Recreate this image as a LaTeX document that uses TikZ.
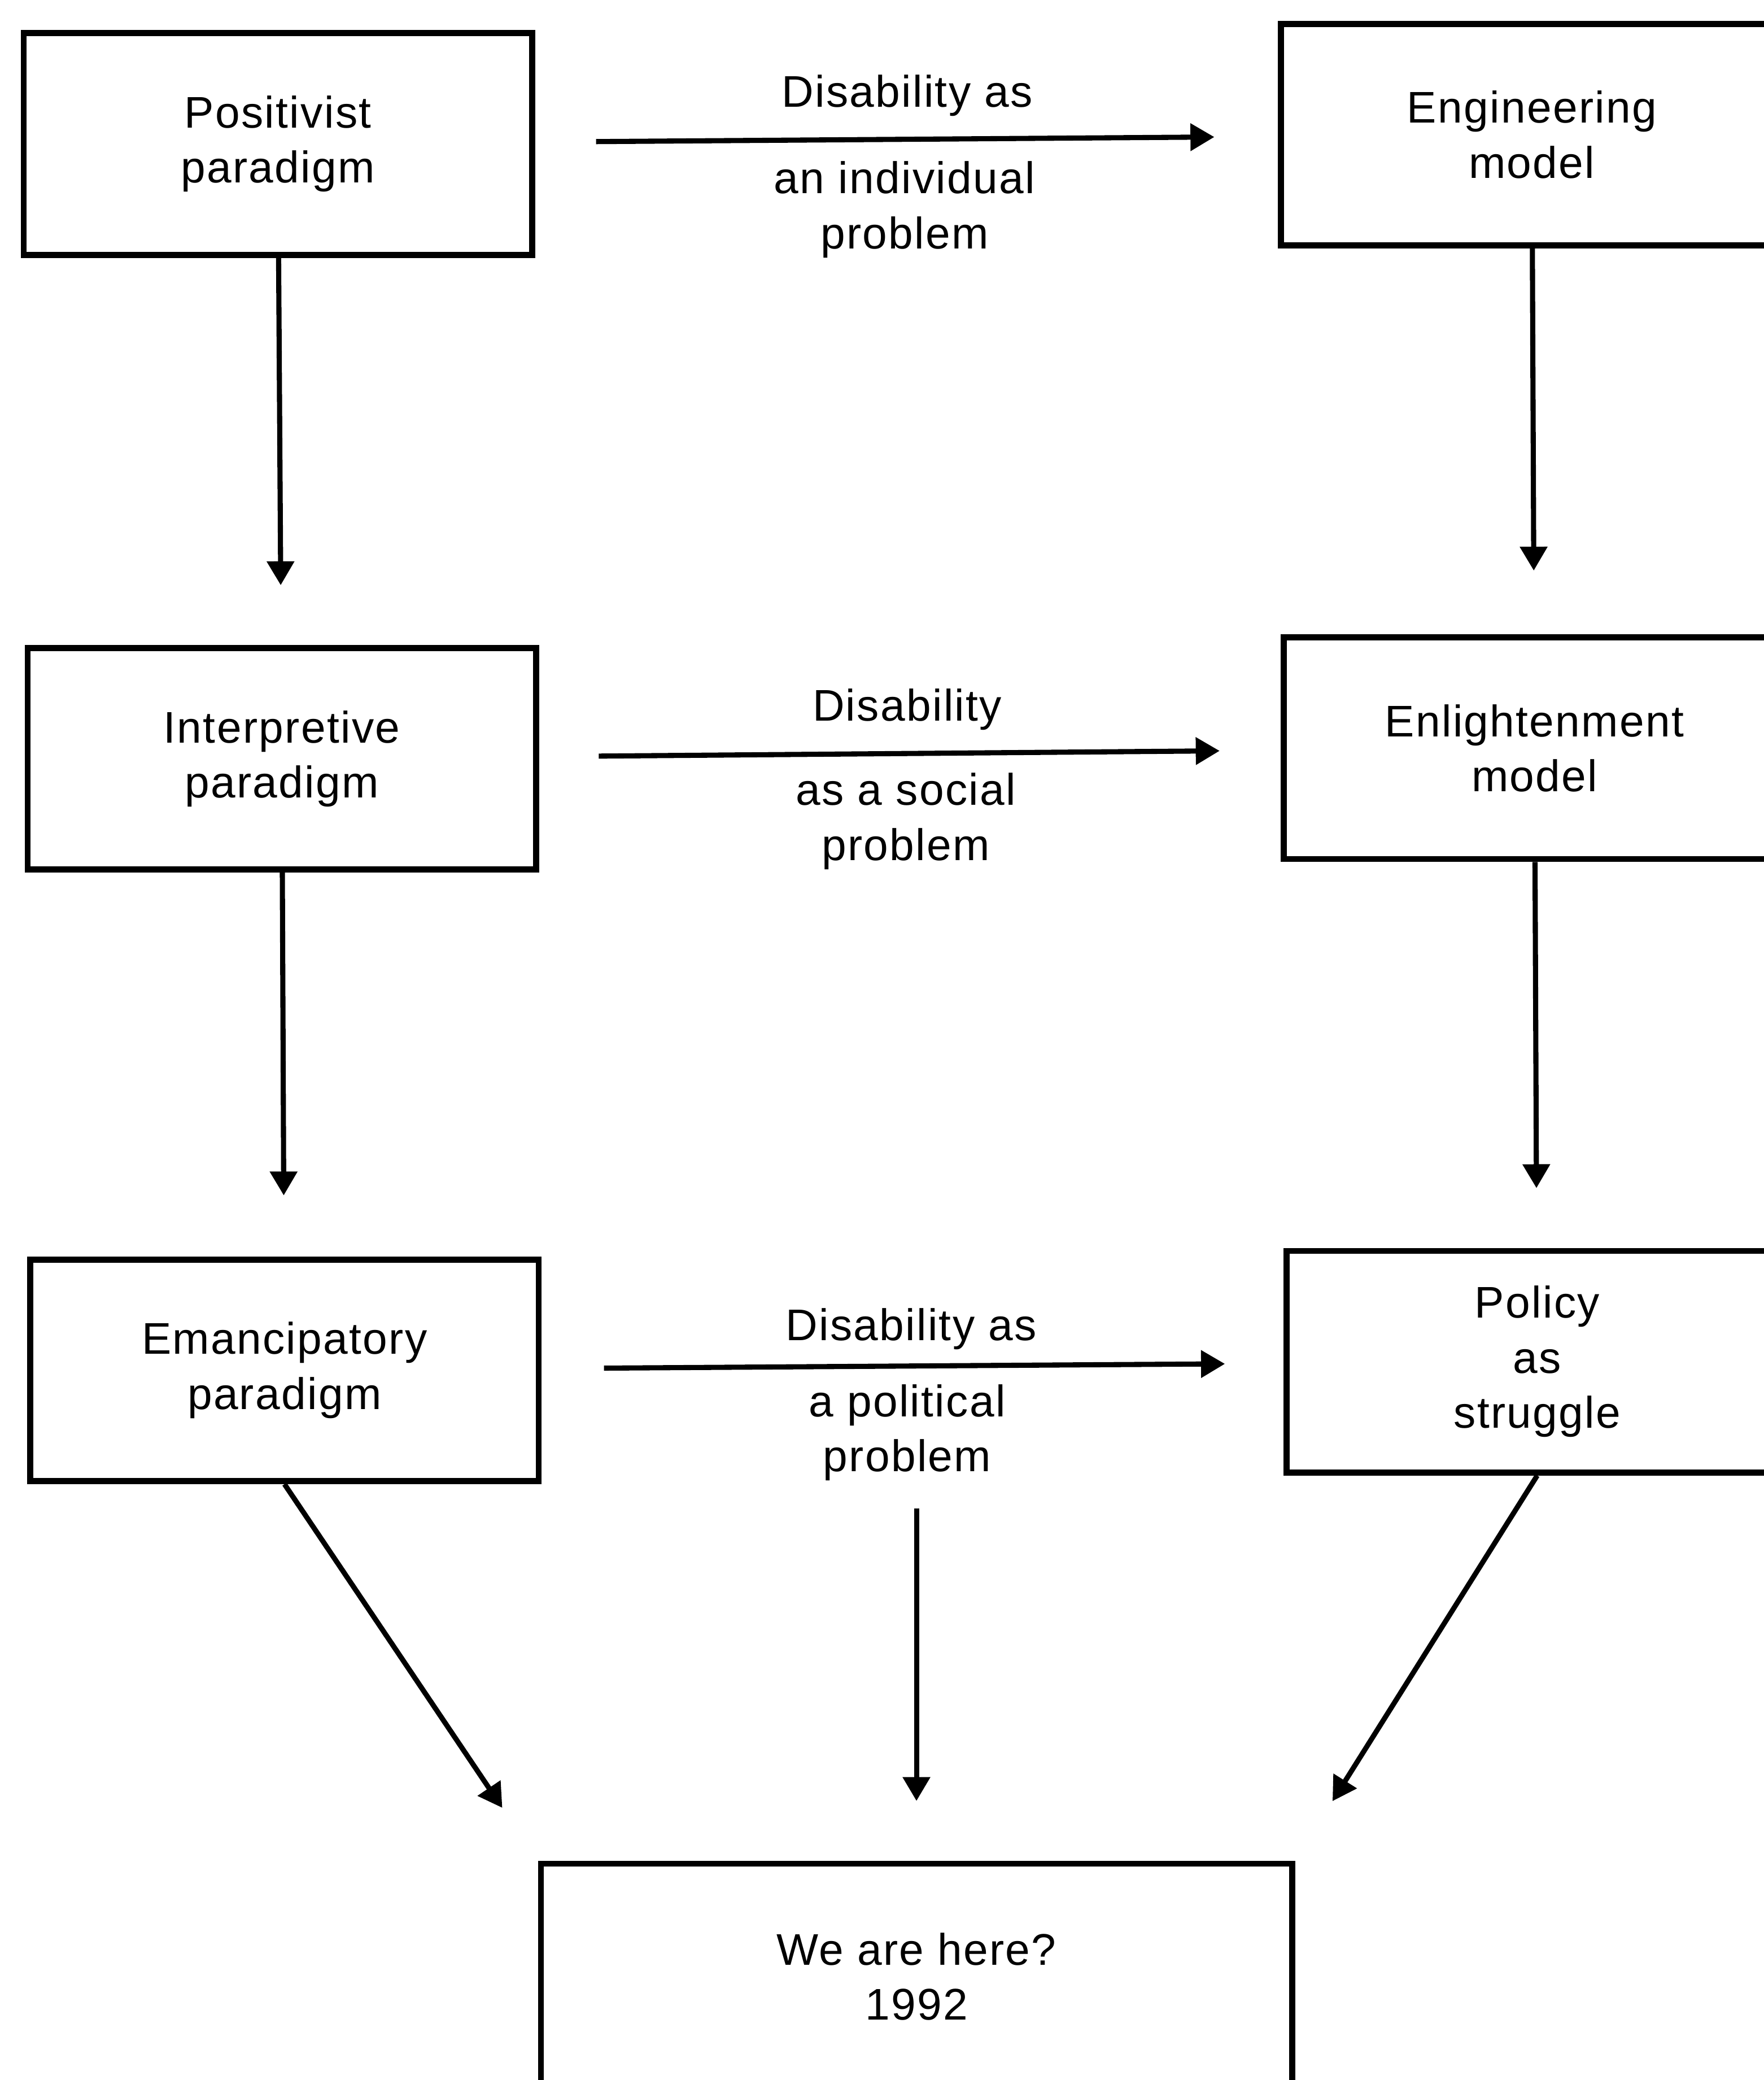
\documentclass[tikz,border=0pt]{standalone}
\usepackage{fontspec}
\setmainfont{Liberation Sans}[LetterSpace=3]
\usepackage{tikz}
\usetikzlibrary{arrows.meta}

\begin{document}
\begin{tikzpicture}[x=0.01cm,y=-0.01cm,font=\fontsize{9.5}{11.8}\selectfont]
\tikzstyle{every node}+=[inner sep=0pt]
\tikzstyle{box}=[draw, line width=1.3pt, minimum width=3.83cm, minimum height=1.67cm, align=center]
\tikzstyle{lbl}=[align=center]
\tikzstyle{arr}=[line width=1.1pt, -{Triangle[length=0.18cm,width=0.2cm]}]
\useasboundingbox (0,0) rectangle (1330,1568);
\clip (0,0) rectangle (1330,1568);
\node [box] (pos) at (209.5,108.5) {Positivist\\paradigm};
\node [box, minimum width=3.78cm] (eng) at (1155,101.5) {Engineering\\model};
\node [box] (int) at (212.5,572) {Interpretive\\paradigm};
\node [box, minimum width=3.78cm] (enl) at (1157,564) {Enlightenment\\model};
\node [box] (ema) at (214.5,1033) {Emancipatory\\paradigm};
\node [box, minimum width=3.78cm] (pol) at (1159,1026.5) {Policy\\as\\struggle};
\node [box, minimum width=5.66cm, minimum height=1.7cm] (here) at (691,1490) {We are here?\\1992};
\node [lbl] (dis1) at (684,72) {Disability as};
\node [lbl] (dis1b) at (682,158) {an individual\\problem};
\node [lbl] (dis2) at (684,535) {Disability};
\node [lbl] (dis2b) at (683,619) {as a social\\problem};
\node [lbl] (dis3) at (687,1002) {Disability as};
\node [lbl] (dis3b) at (684,1080) {a political\\problem};
\coordinate (mid) at (691,1137);
\draw [arr, shorten <=0.46cm, shorten >=0.48cm] (pos) -- (eng);
\draw [arr, shorten <=0.45cm, shorten >=0.46cm] (int) -- (enl);
\draw [arr, shorten <=0.47cm, shorten >=0.44cm] (ema) -- (pol);
\draw [arr, shorten >=0.45cm] (pos) -- (int);
\draw [arr, shorten >=0.46cm] (int) -- (ema);
\draw [arr, shorten >=0.48cm] (eng) -- (enl);
\draw [arr, shorten >=0.45cm] (enl) -- (pol);
\draw [arr, shorten >=0.48cm] (ema.south) -- (here.north west);
\draw [arr, shorten >=0.45cm] (mid) -- (here.north);
\draw [arr, shorten >=0.53cm] (pol.south) -- (here.north east);
\end{tikzpicture}
\end{document}
